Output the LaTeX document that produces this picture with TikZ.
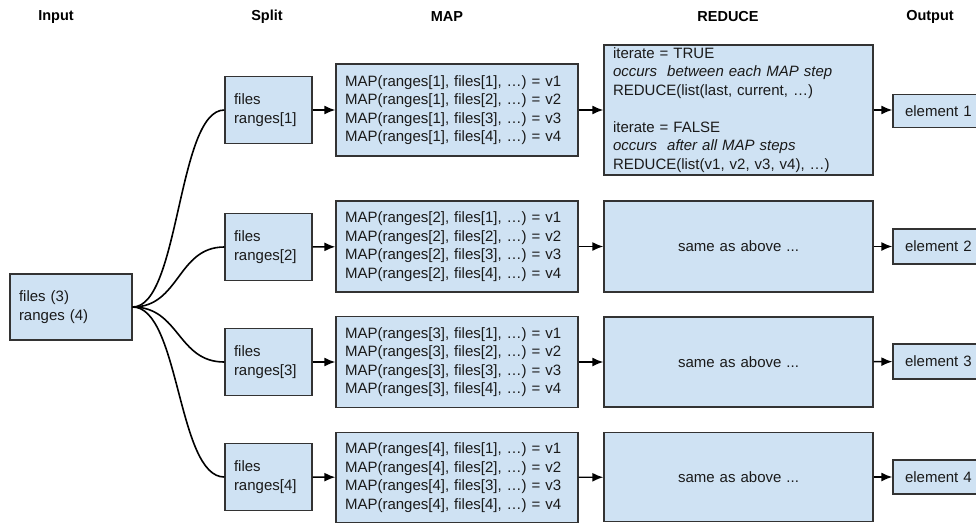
\documentclass[tikz,border=0pt]{standalone}
\usepackage{fontspec}
\setmainfont{Liberation Sans}
\usetikzlibrary{arrows.meta}
\definecolor{boxblue}{HTML}{CFE2F3}
\definecolor{boxline}{HTML}{333333}
\definecolor{boxtext}{HTML}{1A1A1A}
\begin{document}
\begin{tikzpicture}[x=1pt, y=-1pt,
        box/.style={draw=boxline, line width=1.4pt, fill=boxblue, text=boxtext,
            align=left, inner xsep=9pt, inner ysep=0pt,
            font=\fontsize{15pt}{18.5pt}\selectfont},
        title/.style={font=\bfseries\fontsize{14.5pt}{17pt}\selectfont},
        arr/.style={-{Latex[length=11pt,width=9pt]}, line width=1.4pt},
        link/.style={line width=1.6pt}]
    \path[use as bounding box, clip]
        (0,0) rectangle (976,523);
    \node[title] (tin) at (56,17) {Input};
    \node[title] (tsplit) at (267,17) {Split};
    \node[title] (tmap) at (447,17) {MAP};
    \node[title] (treduce) at (728,17) {REDUCE};
    \node[title] (tout) at (930,17) {Output};
    \node[box, text width=104pt, minimum height=66pt] (in) at (71,307)
        {files (3)\\ranges (4)};
    \node[box, text width=69pt, minimum height=67pt] (split1) at (268.5,110)
        {files\\ranges[1]};
    \node[box, text width=69pt, minimum height=67pt] (split2) at (268.5,247)
        {files\\ranges[2]};
    \node[box, text width=69pt, minimum height=67pt] (split3) at (268.5,362)
        {files\\ranges[3]};
    \node[box, text width=69pt, minimum height=67pt] (split4) at (268.5,477)
        {files\\ranges[4]};
    \node[box, text width=224pt, minimum height=92pt] (map1) at (457,110)
        {MAP(ranges[1], files[1], …) = v1\\MAP(ranges[1], files[2], …) = v2\\
         MAP(ranges[1], files[3], …) = v3\\MAP(ranges[1], files[4], …) = v4};
    \node[box, text width=224pt, minimum height=91pt] (map2) at (457,246.5)
        {MAP(ranges[2], files[1], …) = v1\\MAP(ranges[2], files[2], …) = v2\\
         MAP(ranges[2], files[3], …) = v3\\MAP(ranges[2], files[4], …) = v4};
    \node[box, text width=224pt, minimum height=91pt] (map3) at (457,362)
        {MAP(ranges[3], files[1], …) = v1\\MAP(ranges[3], files[2], …) = v2\\
         MAP(ranges[3], files[3], …) = v3\\MAP(ranges[3], files[4], …) = v4};
    \node[box, text width=224pt, minimum height=90pt] (map4) at (457,477.5)
        {MAP(ranges[4], files[1], …) = v1\\MAP(ranges[4], files[2], …) = v2\\
         MAP(ranges[4], files[3], …) = v3\\MAP(ranges[4], files[4], …) = v4};
    \node[box, text width=251pt, minimum height=130pt] (reduce1) at (738.5,110)
        {iterate = TRUE\\\textit{occurs\ \ between each MAP step}\\
         REDUCE(list(last, current, …)\\[18.5pt]
         iterate = FALSE\\\textit{occurs\ \ after all MAP steps}\\
         REDUCE(list(v1, v2, v3, v4), …)};
    \node[box, text width=251pt, minimum height=91pt, align=center] (reduce2) at (738.5,246.5)
        {same as above ...};
    \node[box, text width=251pt, minimum height=90pt, align=center] (reduce3) at (738.5,362)
        {same as above ...};
    \node[box, text width=251pt, minimum height=89pt, align=center] (reduce4) at (738.5,477)
        {same as above ...};
    \node[box, inner xsep=12pt, text width=70pt, minimum height=33pt] (out1) at (940,111)
        {element 1};
    \node[box, inner xsep=12pt, text width=70pt, minimum height=35pt] (out2) at (940,246.5)
        {element 2};
    \node[box, inner xsep=12pt, text width=70pt, minimum height=35pt] (out3) at (940,361.5)
        {element 3};
    \node[box, inner xsep=12pt, text width=70pt, minimum height=34pt] (out4) at (940,477)
        {element 4};
    \draw[link]
        (in.east) .. controls +(47,0) and +(-47,0) .. (split1.west);
    \draw[link]
        (in.east) .. controls +(47,0) and +(-47,0) .. (split2.west);
    \draw[link]
        (in.east) .. controls +(47,0) and +(-47,0) .. (split3.west);
    \draw[link]
        (in.east) .. controls +(47,0) and +(-47,0) .. (split4.west);
    \draw[arr] (split1) -- (map1);
    \draw[arr] (split2) -- (map2);
    \draw[arr] (split3) -- (map3);
    \draw[arr] (split4) -- (map4);
    \draw[arr] (map1) -- (reduce1);
    \draw[arr] (map2) -- (reduce2);
    \draw[arr] (map3) -- (reduce3);
    \draw[arr] (map4) -- (reduce4);
    \draw[arr] (reduce1.east) -- (out1.west |- reduce1.east);
    \draw[arr] (reduce2) -- (out2);
    \draw[arr] (reduce3) -- (out3);
    \draw[arr] (reduce4) -- (out4);
\end{tikzpicture}
\end{document}
